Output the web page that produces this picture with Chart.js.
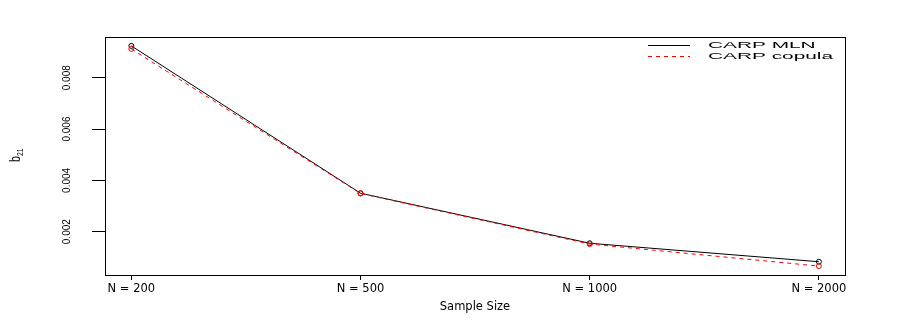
<!DOCTYPE html>
<html>
<head>
<meta charset="utf-8">
<script src="https://cdn.jsdelivr.net/npm/chart.js@4.4.1/dist/chart.umd.min.js"></script>
<style>
  html, body { margin: 0; padding: 0; background: #fff; }
  #wrap { width: 900px; height: 322px; }
</style>
</head>
<body>
<div id="wrap"><canvas id="grafica" width="900" height="322"></canvas></div>
<script>
// Datos
const categorias = ['N = 200', 'N = 500', 'N = 1000', 'N = 2000'];
const valoresMLN = [0.00924, 0.00350, 0.00155, 0.00083];
const valoresCopula = [0.00912, 0.00349, 0.00152, 0.00066];
const ticksY = [0.002, 0.004, 0.006, 0.008];
const nombres = ['CARP MLN', 'CARP copula'];

Chart.defaults.color = '#000';

const puntos = (vals) => vals.map((v, i) => ({x: i, y: v}));

// caja alrededor del area del grafico + titulo y leyenda a mano
const cajaPlugin = {
    id: 'caja',
    afterDraw(chart) {
        const {ctx, chartArea} = chart;
        ctx.save();
        ctx.strokeStyle = '#000';
        ctx.lineWidth = 1;
        ctx.strokeRect(Math.round(chartArea.left) + 0.5, Math.round(chartArea.top) + 0.5,
            Math.round(chartArea.right - chartArea.left), Math.round(chartArea.bottom - chartArea.top));

        // titulo del eje y: b sub 21
        ctx.translate(20, 162);
        ctx.rotate(-Math.PI / 2);
        ctx.scale(0.75, 1);
        ctx.fillStyle = '#000';
        ctx.textBaseline = 'alphabetic';
        ctx.font = '14px "Liberation Sans"';
        ctx.fillText('b', 0, 0);
        ctx.font = '9px "Liberation Sans"';
        ctx.fillText('21', 8, 3);
        ctx.restore();

        // leyenda
        ctx.save();
        chart.data.datasets.forEach((ds, i) => {
            const y = 45.5 + i * 11;
            ctx.strokeStyle = ds.borderColor;
            ctx.lineWidth = 1;
            ctx.setLineDash(ds.borderDash || []);
            ctx.beginPath();
            ctx.moveTo(648, y);
            ctx.lineTo(690, y);
            ctx.stroke();
            ctx.save();
            ctx.translate(708, y);
            ctx.scale(2.45, 1);
            ctx.fillStyle = '#000';
            ctx.font = '8.5px "Liberation Sans"';
            ctx.textBaseline = 'middle';
            ctx.fillText(ds.label, 0, 0);
            ctx.restore();
        });
        ctx.restore();
    }
};

const ctx = document.getElementById('grafica').getContext('2d');
const chart = new Chart(ctx, {
    type: 'line',
    data: {
        datasets: [
            {
                label: nombres[0],
                data: puntos(valoresMLN),
                borderColor: '#000',
                borderWidth: 1,
                pointRadius: 2.5,
                pointBorderWidth: 1,
                pointBackgroundColor: 'rgba(0,0,0,0)',
                pointBorderColor: '#000',
                order: 1
            },
            {
                label: nombres[1],
                data: puntos(valoresCopula),
                borderColor: '#ff0000',
                borderWidth: 1,
                borderDash: [4, 4],
                pointRadius: 2.5,
                pointBorderWidth: 1,
                pointBackgroundColor: 'rgba(0,0,0,0)',
                pointBorderColor: '#ff0000',
                order: 0
            }
        ]
    },
    options: {
        responsive: false,
        animation: false,
        devicePixelRatio: 1,
        layout: { padding: { top: 37, right: 55, left: 0, bottom: 0 } },
        plugins: {
            legend: { display: false },
            tooltip: { enabled: false }
        },
        scales: {
            x: {
                type: 'linear',
                min: -0.115,
                max: 3.114,
                afterBuildTicks: (s) => { s.ticks = categorias.map((c, i) => ({value: i})); },
                afterFit: (s) => { s.height = 47; },
                grid: { display: true, drawOnChartArea: false, drawTicks: true, tickLength: 5, tickColor: '#000' },
                border: { display: true, color: '#000' },
                ticks: {
                    callback: (v) => categorias[v],
                    font: { family: 'DejaVu Sans', size: 11.5 },
                    padding: 2,
                    maxRotation: 0
                },
                title: {
                    display: true,
                    text: 'Sample Size',
                    font: { family: 'DejaVu Sans', size: 11.5 },
                    padding: { top: 0, bottom: 8 }
                }
            },
            y: {
                min: 0.000313,
                max: 0.009586,
                afterBuildTicks: (s) => { s.ticks = ticksY.map(v => ({value: v})); },
                afterFit: (s) => { s.width = 105; },
                grid: { display: true, drawOnChartArea: false, drawTicks: true, tickLength: 13, tickColor: '#000' },
                border: { display: true, color: '#000' },
                ticks: {
                    callback: (v) => v.toFixed(3),
                    font: { family: 'Liberation Sans', size: 10 },
                    minRotation: 90,
                    maxRotation: 90,
                    crossAlign: 'center',
                    padding: 12
                }
            }
        }
    },
    plugins: [cajaPlugin]
});
</script>
</body>
</html>
